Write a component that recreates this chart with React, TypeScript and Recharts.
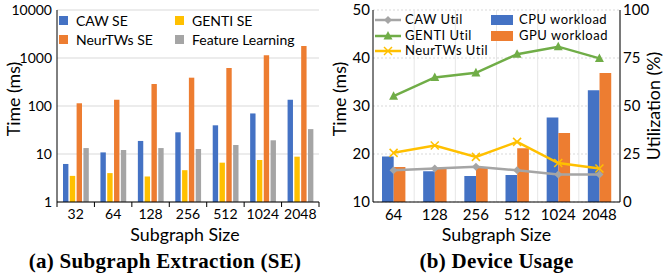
import React from 'react';
import { ComposedChart, Bar, Line, XAxis, YAxis, CartesianGrid, Legend } from 'recharts';

// ---------- (a) Subgraph Extraction ----------
const seSizes = ['32', '64', '128', '256', '512', '1024', '2048'];
const cawSE = [6.2, 10.8, 18.7, 28.3, 39.6, 70, 135];
const gentiSE = [3.5, 4.0, 3.4, 4.6, 6.6, 7.5, 8.8];
const neurtwsSE = [114, 135, 287, 389, 619, 1137, 1778];
const featureLearning = [13.3, 12.1, 13.3, 12.7, 15.4, 19.3, 33];
const seTicks = [1, 10, 100, 1000, 10000];

// ---------- (b) Device Usage ----------
const duSizes = ['64', '128', '256', '512', '1024', '2048'];
const cpuWorkload = [19.5, 16.4, 15.4, 15.6, 27.6, 33.3];
const gpuWorkload = [17.3, 17.0, 17.2, 21.2, 24.4, 36.9];
const cawUtil = [16.5, 17.4, 18.3, 16.5, 14.3, 14.3];
const gentiUtil = [55.1, 64.9, 67.3, 77.0, 80.9, 74.8];
const neurtwsUtil = [25.6, 29.4, 23.5, 31.3, 20.3, 17.4];
const timeTicks = [10, 20, 30, 40, 50];
const utilTicks = [0, 25, 50, 75, 100];

const BLUE = '#4472C4';
const ORANGE = '#ED7D31';
const YELLOW = '#FFC000';
const GRAY = '#A5A5A5';
const GREEN = '#70AD47';

const seData = seSizes.map((s, i) => ({
  size: s,
  caw: cawSE[i],
  genti: gentiSE[i],
  neurtws: neurtwsSE[i],
  fl: featureLearning[i],
}));

const duData = duSizes.map((s, i) => ({
  size: s,
  cpu: cpuWorkload[i],
  gpu: gpuWorkload[i],
  caw: cawUtil[i],
  genti: gentiUtil[i],
  neurtws: neurtwsUtil[i],
}));

const FONT = 'Lato, "Open Sans", sans-serif';
const TICK_FS = 14;
const TICK_FS_B = 15;
const TITLE_FS = 17.8;

const seLegend = [
  { name: 'CAW SE', color: BLUE },
  { name: 'GENTI SE', color: YELLOW },
  { name: 'NeurTWs SE', color: ORANGE },
  { name: 'Feature Learning', color: GRAY },
];

const SETick = (props: any) => {
  const { x, y, payload, index } = props;
  const half = payload && typeof payload.offset === 'number' ? payload.offset : 18.7;
  const base = y - 7;
  return (
    <g>
      <line x1={x - half} x2={x - half} y1={base} y2={base + 5} stroke="#000" strokeWidth={1} />
      {index === seSizes.length - 1 && (
        <line x1={x + half} x2={x + half} y1={base} y2={base + 5} stroke="#000" strokeWidth={1} />
      )}
      <text x={x} y={y} dy="0.71em" textAnchor="middle" fontSize={TICK_FS} fill="#000">
        {payload.value}
      </text>
    </g>
  );
};

const vLabel = (value: string, dx: number, dy: number, angle: number) => (props: any) => {
  const vb = props.viewBox || {};
  const cx = vb.x + dx;
  const cy = vb.y + vb.height / 2 + dy;
  return (
    <text
      x={cx}
      y={cy}
      transform={`rotate(${angle} ${cx} ${cy})`}
      textAnchor="middle"
      dominantBaseline="central"
      fontSize={TITLE_FS}
      fill="#000"
    >
      {value}
    </text>
  );
};

const hLabel = (value: string, dx: number, dy: number) => (props: any) => {
  const vb = props.viewBox || {};
  const cx = vb.x + vb.width / 2 + dx;
  const cy = vb.y + dy;
  return (
    <text x={cx} y={cy} textAnchor="middle" dominantBaseline="central" fontSize={TITLE_FS} fill="#000">
      {value}
    </text>
  );
};

const SELegend = () => (
  <div style={{ display: 'grid', gridTemplateColumns: '116px 140px', rowGap: 0, fontFamily: FONT, lineHeight: '17px' }}>
    {seLegend.map((it) => (
      <div key={it.name} style={{ display: 'flex', alignItems: 'center', height: 19, fontSize: 14, color: '#000' }}>
        <span style={{ width: 9, height: 9, background: it.color, display: 'inline-block', marginRight: 8 }} />
        <span style={{ whiteSpace: 'nowrap' }}>{it.name}</span>
      </div>
    ))}
  </div>
);

const Triangle = ({ cx, cy, color, s = 9 }: any) => (
  <polygon
    points={`${cx},${cy - s * 0.55} ${cx - s / 2},${cy + s * 0.4} ${cx + s / 2},${cy + s * 0.4}`}
    fill={color}
  />
);
const Diamond = ({ cx, cy, color, s = 8 }: any) => (
  <polygon points={`${cx},${cy - s / 2} ${cx + s / 2},${cy} ${cx},${cy + s / 2} ${cx - s / 2},${cy}`} fill={color} />
);
const Cross = ({ cx, cy, color, s = 8 }: any) => (
  <g stroke={color} strokeWidth={1.5}>
    <line x1={cx - s / 2} y1={cy - s / 2} x2={cx + s / 2} y2={cy + s / 2} />
    <line x1={cx - s / 2} y1={cy + s / 2} x2={cx + s / 2} y2={cy - s / 2} />
  </g>
);

const duLineLegend = [
  { name: 'CAW Util', color: GRAY, M: Diamond },
  { name: 'GENTI Util', color: GREEN, M: Triangle },
  { name: 'NeurTWs Util', color: YELLOW, M: Cross },
];
const duBarLegend = [
  { name: 'CPU workload', color: BLUE },
  { name: 'GPU workload', color: ORANGE },
];

const ROW_H = 15.7;

const DULegend = () => (
  <div style={{ display: 'flex', fontFamily: FONT, fontSize: 13, letterSpacing: 0.5, lineHeight: `${ROW_H}px`, color: '#000' }}>
    <div style={{ width: 116 }}>
      {duLineLegend.map((it) => {
        const M = it.M;
        return (
          <div key={it.name} style={{ display: 'flex', alignItems: 'center', height: ROW_H }}>
            <svg width={26} height={12} style={{ marginRight: 4 }}>
              <line x1={0} y1={6} x2={26} y2={6} stroke={it.color} strokeWidth={2.5} />
              <M cx={13} cy={6} color={it.color} />
            </svg>
            <span style={{ whiteSpace: 'nowrap' }}>{it.name}</span>
          </div>
        );
      })}
    </div>
    <div>
      {duBarLegend.map((it) => (
        <div key={it.name} style={{ display: 'flex', alignItems: 'center', height: ROW_H }}>
          <span style={{ width: 22, height: 10, background: it.color, display: 'inline-block', marginRight: 6 }} />
          <span style={{ whiteSpace: 'nowrap' }}>{it.name}</span>
        </div>
      ))}
    </div>
  </div>
);

const tickStyle = { fontSize: TICK_FS, fill: '#000' };
const tickStyleB = { fontSize: TICK_FS_B, fill: '#000' };

const captionStyle: React.CSSProperties = {
  position: 'absolute',
  top: 249,
  textAlign: 'center',
  fontFamily: '"Liberation Serif", serif',
  fontWeight: 'bold',
  fontSize: 21,
  letterSpacing: 0.3,
  color: '#000',
  whiteSpace: 'nowrap',
};

export default function App() {
  return (
    <div style={{ position: 'absolute', left: 0, top: 0, width: 663, height: 279, background: '#fff', fontFamily: FONT }}>
      <div style={{ position: 'absolute', left: 0, top: 0 }}>
        <ComposedChart
          width={330}
          height={279}
          data={seData}
          margin={{ top: 10, right: 11, bottom: 47, left: 0 }}
          barSize={5.4}
          barGap={1.4}
        >
          <CartesianGrid vertical={false} stroke="#d9d9d9" />
          <XAxis
            dataKey="size"
            height={30}
            axisLine={{ stroke: '#000' }}
            tickLine={false}
            tickSize={0}
            tickMargin={7}
            tick={<SETick />}
            interval={0}
            label={hLabel('Subgraph Size', -3, 32)}
          />
          <XAxis xAxisId="top" dataKey="size" orientation="top" height={0} tick={false} tickLine={false} axisLine={{ stroke: '#000' }} />
          <YAxis
            scale="log"
            domain={[1, 10000]}
            ticks={seTicks}
            allowDataOverflow
            width={57}
            axisLine={{ stroke: '#000' }}
            tickLine={false}
            tickSize={0}
            tickMargin={5}
            tick={tickStyle}
            label={vLabel('Time (ms)', 13, -7, -90)}
          />
          <YAxis yAxisId="r" orientation="right" width={0} domain={[0, 1]} tick={false} tickLine={false} axisLine={{ stroke: '#000' }} />
          <Legend
            layout="vertical"
            align="center"
            verticalAlign="middle"
            wrapperStyle={{ position: 'absolute', left: 59, top: 11, width: 260 }}
            content={() => <SELegend />}
          />
          <Bar dataKey="caw" name="CAW SE" fill={BLUE} isAnimationActive={false} />
          <Bar dataKey="genti" name="GENTI SE" fill={YELLOW} isAnimationActive={false} />
          <Bar dataKey="neurtws" name="NeurTWs SE" fill={ORANGE} isAnimationActive={false} />
          <Bar dataKey="fl" name="Feature Learning" fill={GRAY} isAnimationActive={false} />
        </ComposedChart>
      </div>

      <div style={{ position: 'absolute', left: 322, top: 0 }}>
        <ComposedChart
          width={341}
          height={279}
          data={duData}
          margin={{ top: 10, right: 0, bottom: 47, left: 8 }}
          barSize={11.7}
          barGap={0}
        >
          <CartesianGrid vertical={false} stroke="#d9d9d9" strokeDasharray="2 2" yAxisId="left" />
          <CartesianGrid
            horizontal={false}
            stroke="#e6e6e6"
            verticalCoordinatesGenerator={({ offset }: any) =>
              duSizes.map((_, i) => offset.left + ((i + 1) * offset.width) / duSizes.length)
            }
          />
          <XAxis
            dataKey="size"
            height={30}
            axisLine={{ stroke: '#000' }}
            tickLine={false}
            tickSize={0}
            tickMargin={7}
            tick={tickStyleB}
            interval={0}
            label={hLabel('Subgraph Size', 0, 32)}
          />
          <XAxis xAxisId="top" dataKey="size" orientation="top" height={0} tick={false} tickLine={false} axisLine={{ stroke: '#000' }} />
          <YAxis
            yAxisId="left"
            domain={[10, 50]}
            ticks={timeTicks}
            allowDataOverflow
            width={43}
            axisLine={{ stroke: '#000' }}
            tickLine={false}
            tickSize={0}
            tickMargin={3}
            tick={tickStyleB}
            label={vLabel('Time (ms)', 9, -7, -90)}
          />
          <YAxis
            yAxisId="right"
            orientation="right"
            domain={[0, 100]}
            ticks={utilTicks}
            width={43}
            axisLine={{ stroke: '#000' }}
            tickLine={false}
            tickSize={0}
            tickMargin={3}
            tick={tickStyleB}
            label={vLabel('Utilization (%)', 33, 0, -90)}
          />
          <Legend
            layout="vertical"
            align="center"
            verticalAlign="middle"
            wrapperStyle={{ position: 'absolute', left: 53, top: 12, width: 260 }}
            content={() => <DULegend />}
          />
          <Bar yAxisId="left" dataKey="cpu" name="CPU workload" fill={BLUE} isAnimationActive={false} />
          <Bar yAxisId="left" dataKey="gpu" name="GPU workload" fill={ORANGE} isAnimationActive={false} />
          <Line
            yAxisId="right"
            dataKey="caw"
            name="CAW Util"
            stroke={GRAY}
            strokeWidth={2.5}
            isAnimationActive={false}
            dot={(p: any) => <Diamond key={`c${p.index}`} cx={p.cx} cy={p.cy} color={GRAY} />}
            activeDot={false}
          />
          <Line
            yAxisId="right"
            dataKey="genti"
            name="GENTI Util"
            stroke={GREEN}
            strokeWidth={2.5}
            isAnimationActive={false}
            dot={(p: any) => <Triangle key={`g${p.index}`} cx={p.cx} cy={p.cy} color={GREEN} />}
            activeDot={false}
          />
          <Line
            yAxisId="right"
            dataKey="neurtws"
            name="NeurTWs Util"
            stroke={YELLOW}
            strokeWidth={2.5}
            isAnimationActive={false}
            dot={(p: any) => <Cross key={`n${p.index}`} cx={p.cx} cy={p.cy} color={YELLOW} />}
            activeDot={false}
          />
        </ComposedChart>
      </div>

      <div style={{ ...captionStyle, left: 0, width: 330 }}>(a) Subgraph Extraction (SE)</div>
      <div style={{ ...captionStyle, left: 330, width: 333 }}>(b) Device Usage</div>
    </div>
  );
}
